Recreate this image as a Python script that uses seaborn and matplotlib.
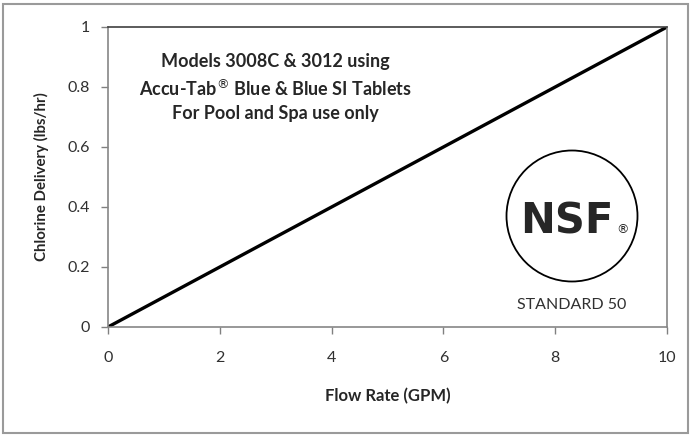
import matplotlib
matplotlib.use("Agg")
import matplotlib.pyplot as plt
import seaborn as sns
import pandas as pd
from matplotlib.patches import Circle, Rectangle

# chart data
flow_gpm = [0, 10]
chlorine_lbs_hr = [0, 1]
x_ticks = [0, 2, 4, 6, 8, 10]
y_ticks = [0, 0.2, 0.4, 0.6, 0.8, 1]
y_tick_labels = ["0", "0.2", "0.4", "0.6", "0.8", "1"]

df = pd.DataFrame({"Flow Rate (GPM)": flow_gpm,
                   "Chlorine Delivery (lbs/hr)": chlorine_lbs_hr})

sns.set_style("white")
plt.rcParams["font.family"] = ["Lato", "DejaVu Sans"]

fig = plt.figure(figsize=(6.92, 4.37), dpi=100)
ax = fig.add_axes([108 / 692, 1 - 327 / 437, (667 - 108) / 692, (327 - 27) / 437])

sns.lineplot(data=df, x="Flow Rate (GPM)", y="Chlorine Delivery (lbs/hr)",
             color="black", linewidth=2.4, ax=ax)

ax.set_xlim(0, 10)
ax.set_ylim(0, 1)
ax.set_xticks(x_ticks)
ax.set_yticks(y_ticks)
ax.set_yticklabels(y_tick_labels)
ax.tick_params(axis="both", direction="out", length=5, width=1, color="#808080",
               labelsize=11.5, labelcolor="#303030", pad=8)
ax.tick_params(axis="x", pad=12, bottom=True)
ax.tick_params(axis="y", left=True)

for side in ["left", "bottom", "right"]:
    ax.spines[side].set_color("#868686")
    ax.spines[side].set_linewidth(1.2)
ax.spines["top"].set_color("#404040")
ax.spines["top"].set_linewidth(1.2)

ax.set_xlabel("Flow Rate (GPM)", fontsize=12, fontweight="bold", labelpad=17)
ax.set_ylabel("Chlorine Delivery (lbs/hr)", fontsize=10.8, fontweight="bold", labelpad=13)

# annotation text
ax.text(0.30, 0.797, "Models 3008C & 3012 using\nAccu-Tab$^{\\circledR}$ Blue & Blue SI Tablets\nFor Pool and Spa use only",
        transform=ax.transAxes, ha="center", va="center", fontsize=13,
        fontweight="bold", linespacing=1.45)

# NSF logo
px = fig.dpi_scale_trans
fig.patches.append(Circle((5.72, (437 - 216) / 100), 0.655, transform=px,
                          fill=False, edgecolor="black", linewidth=1.3))
fig.text(5.67, (437 - 221) / 100, "NSF", transform=px, ha="center", va="center",
         fontsize=30, fontweight="bold", family=["DejaVu Sans"])
fig.text(6.22, (437 - 230) / 100, "®", transform=px, ha="center", va="center",
         fontsize=9, family=["DejaVu Sans"])
fig.text(5.72, (437 - 305) / 100, "STANDARD 50", transform=px, ha="center",
         va="center", fontsize=11.5, color="#303030")

# outer chart border
fig.patches.append(Rectangle((3 / 692, 4 / 437), 685 / 692, 429 / 437,
                             transform=fig.transFigure, fill=False,
                             edgecolor="#9a9a9a", linewidth=1.5))

fig.savefig("out.png", dpi=100)
